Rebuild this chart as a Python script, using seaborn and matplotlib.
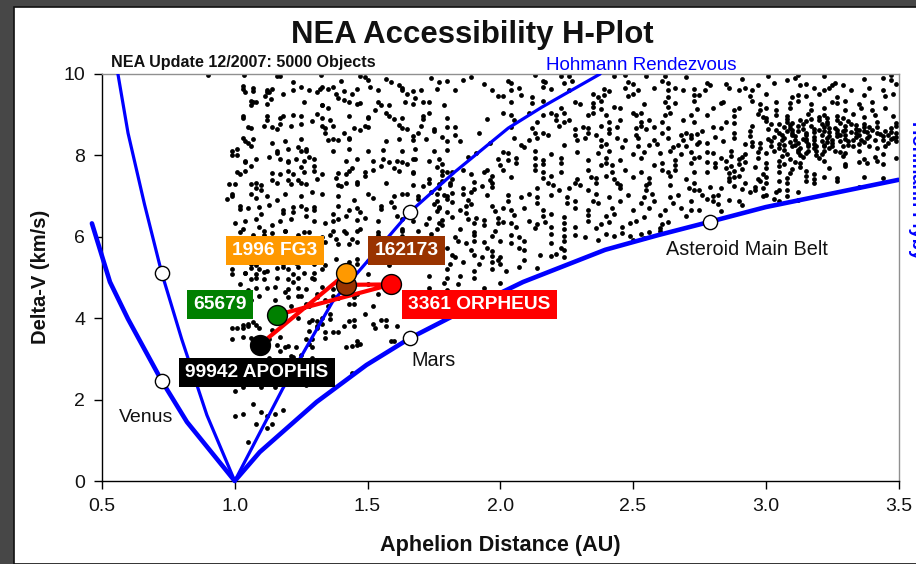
import matplotlib.pyplot as plt
import pandas as pd
import seaborn as sns
from matplotlib.patches import Rectangle

# curves: (aphelion AU, delta-v km/s)
venus_rendezvous = [(0.56, 10), (0.598, 8.55), (0.66, 6.8), (0.725, 5.11), (0.80, 3.49), (0.895, 1.62), (1.0, 0)]
venus_flyby = [(0.462, 6.33), (0.53, 4.89), (0.598, 3.98), (0.725, 2.46), (0.82, 1.45), (1.0, 0)]
outer_rendezvous = [(1.0, 0), (1.18, 2.26), (1.368, 4.4), (1.658, 6.6), (1.83, 7.6), (2.03, 8.67), (2.158, 9.19), (2.376, 10)]
outer_flyby = [(1.0, 0), (1.094, 0.71), (1.308, 1.94), (1.496, 2.85), (1.66, 3.51), (1.83, 4.08), (2.086, 4.89),
               (2.395, 5.68), (2.594, 6.04), (2.79, 6.37), (3.0, 6.73), (3.5, 7.4)]
planets = [(0.725, 5.11), (0.725, 2.46), (1.66, 6.6), (1.66, 3.51), (2.79, 6.37)]

target_names = ["99942 APOPHIS", "65679", "162173", "1996 FG3", "3361 ORPHEUS"]
target_x = [1.095, 1.16, 1.42, 1.42, 1.59]
target_y = [3.35, 4.08, 4.82, 5.10, 4.83]
target_colors = ["#000000", "#008000", "#993300", "#FF9900", "#FF0000"]
route_x = [1.095, 1.42, 1.42, 1.59, 1.16]
route_y = [3.35, 5.10, 4.82, 4.83, 4.08]

x_ticks = [0.5, 1.0, 1.5, 2.0, 2.5, 3.0, 3.5]
y_ticks = [0, 2, 4, 6, 8, 10]

# dots estimated by eye from the reference
neo_dots = [
 (0.90,9.97),(1.035,9.97),(1.16,9.96),(1.17,9.94),(1.22,9.8),(1.325,9.97),(1.40,9.82),(1.47,9.95),(1.49,9.93),(1.50,9.85),
 (1.03,9.7),(1.04,9.57),(1.07,9.58),(1.06,9.33),(1.07,9.3),(1.12,9.6),(1.13,9.55),(1.115,9.45),(1.135,9.38),(1.18,9.5),
 (1.25,9.68),(1.28,9.6),(1.31,9.57),(1.33,9.68),(1.35,9.62),(1.37,9.67),(1.38,9.52),(1.39,9.42),(1.41,9.36),(1.44,9.5),
 (1.47,9.28),(1.51,9.68),(1.57,9.88),(1.59,9.8),(1.62,9.72),(1.63,9.6),(1.65,9.52),(1.68,9.4),(1.70,9.6),(1.71,9.3),
 (1.74,9.9),(1.77,9.8),(1.80,9.82),(1.83,9.6),(1.86,9.85),(1.89,9.92),(1.94,9.75),(1.97,9.6),(1.99,9.45),
 (1.03,8.98),(1.05,8.7),(1.03,8.42),(1.05,8.3),(1.06,8.22),(1.12,8.88),(1.14,8.7),(1.17,8.77),(1.18,8.98),(1.22,9.0),
 (1.25,8.78),(1.29,8.85),(1.31,9.02),(1.33,9.25),(1.35,9.17),(1.36,8.88),(1.33,8.72),(1.34,8.55),(1.37,8.4),(1.39,8.38),
 (1.41,8.55),(1.43,8.42),(1.47,8.62),(1.49,8.72),(1.50,8.95),(1.53,9.12),(1.55,9.25),(1.57,9.05),(1.60,8.9),(1.62,8.75),
 (1.65,8.65),(1.67,8.48),(1.69,8.55),(1.71,8.9),(1.73,9.05),(1.75,8.6),(1.78,8.45),(1.80,8.7),(1.83,8.5),(1.85,8.35),
 (1.14,8.3),(1.16,8.05),(1.13,7.95),(1.17,7.9),(1.20,7.85),(1.24,8.2),(1.27,8.1),(1.28,7.95),(1.30,7.75),(1.25,7.72),
 (0.99,8.0),(1.01,8.0),(1.04,7.85),(1.06,7.75),(1.02,7.55),(1.0,7.3),(1.06,7.3),(1.08,7.2),(1.10,7.15),(1.14,7.4),
 (1.17,7.55),(1.20,7.4),(1.22,7.55),(1.24,7.4),(1.27,7.3),(1.29,7.1),(1.31,7.42),(1.33,7.55),(1.38,7.45),(1.40,7.25),
 (1.42,7.55),(1.44,7.7),(1.46,7.35),(1.49,7.5),(1.52,7.65),(1.55,7.75),(1.58,7.85),(1.60,7.7),(1.63,7.85),(1.65,7.8),
 (1.68,7.9),(1.76,7.72),(1.78,7.8),(1.86,7.65),(1.88,7.95),(1.91,8.05),(1.95,7.65),(1.99,7.9),(1.92,8.55),(1.96,8.3),(1.95,8.9),
 (0.97,6.92),(0.99,7.05),(1.02,6.75),(1.05,6.7),(1.08,6.95),(1.10,6.55),(1.13,6.78),(1.16,6.9),(1.18,6.58),(1.22,6.62),
 (1.25,6.75),(1.27,6.5),(1.30,6.65),(1.34,6.35),(1.37,6.55),(1.39,6.75),(1.42,6.5),(1.45,6.9),(1.47,6.62),(1.49,6.45),
 (1.52,6.95),(1.55,6.75),(1.59,6.85),(1.61,6.5),(1.0,6.35),(1.03,6.2),(1.07,6.05),(1.09,6.25),(1.11,6.05),(1.14,6.3),
 (1.19,6.15),(1.24,6.05),(1.28,6.12),(1.33,6.0),(1.36,6.05),(1.38,5.95),(1.41,6.15),(1.44,5.95),(1.47,6.2),(1.51,5.85),
 (1.54,6.05),(1.58,5.8),(0.99,5.2),(1.04,5.1),(1.08,5.3),(1.12,5.15),(1.18,5.25),(1.23,5.35),(1.26,5.1),(1.29,5.0),
 (1.34,5.3),(1.38,5.45),(1.46,5.45),(1.50,5.4),(1.54,5.5),(1.58,5.3),(1.02,4.85),(1.05,4.7),(1.09,4.55),(1.12,4.75),
 (1.06,4.45),(1.15,4.45),(1.19,4.65),(1.22,4.9),(1.25,4.55),(1.28,4.3),(1.31,4.6),(1.34,4.45),(1.36,4.1),(1.39,4.5),
 (1.43,4.35),(1.46,4.6),(1.50,4.85),(1.54,4.6),(1.24,4.0),(1.28,3.9),(1.31,3.75),(1.33,4.0),(1.37,3.65),(1.41,3.8),
 (1.45,3.95),(1.49,4.1),(1.53,3.75),(1.57,3.95),(1.61,3.8),(1.46,3.45),(0.99,3.76),(1.01,3.76),(1.03,3.76),(1.05,3.85),
 (1.07,3.9),(1.09,3.75),(1.03,3.55),(1.14,3.7),(1.17,3.55),(1.19,3.3),(1.17,3.2),(1.23,3.3),(1.27,3.5),(1.29,3.3),
 (1.42,3.3),(1.46,3.35),(1.22,3.05),(1.25,3.1),(1.59,3.45),(1.60,3.45),(1.01,2.4),(1.03,2.3),(1.10,2.3),(1.15,2.3),
 (1.27,2.35),(1.44,2.65),(1.0,2.2),(1.07,1.9),(1.18,1.75),(1.12,1.6),(1.10,1.7),(1.0,1.6),(1.03,1.65),(1.15,1.65),
 (1.08,1.4),(1.12,1.3),(1.05,0.95),(1.14,1.4),
 # second pass over 1.0-1.85 AU
 (1.03,9.62),(1.07,9.65),(1.12,9.57),(1.14,9.62),(1.22,9.6),(1.32,9.64),(1.41,9.58),(1.46,9.63),(1.54,9.6),(1.63,9.65),
 (1.67,9.58),(1.76,9.62),(1.06,9.25),(1.08,9.3),(1.12,9.27),(1.26,9.3),(1.33,9.24),(1.43,9.3),(1.46,9.26),(1.54,9.3),
 (1.58,9.25),(1.64,9.3),(1.67,9.26),(1.73,9.3),(1.79,9.25),(1.03,8.93),(1.12,8.97),(1.17,8.92),(1.25,8.97),(1.33,8.93),
 (1.43,8.98),(1.5,8.92),(1.58,8.96),(1.63,8.93),(1.71,8.97),(1.80,8.92),(1.06,8.68),(1.11,8.72),(1.16,8.66),(1.21,8.72),
 (1.34,8.68),(1.37,8.72),(1.45,8.67),(1.5,8.71),(1.63,8.68),(1.7,8.72),(1.75,8.66),(1.83,8.71),(1.04,8.36),(1.07,8.4),
 (1.19,8.35),(1.25,8.4),(1.35,8.37),(1.43,8.41),(1.57,8.35),(1.62,8.4),(1.67,8.37),(1.72,8.41),(1.80,8.36),(0.99,8.11),
 (1.01,8.15),(1.16,8.12),(1.20,8.16),(1.25,8.1),(1.27,8.15),(1.37,8.11),(1.43,8.15),(1.5,8.1),(1.56,8.14),(1.63,8.11),
 (1.68,8.15),(1.75,8.1),(1.80,8.14),(1.04,7.87),(1.08,7.91),(1.20,7.86),(1.23,7.91),(1.26,7.87),(1.30,7.92),(1.42,7.86),
 (1.46,7.9),(1.52,7.87),(1.56,7.91),(1.61,7.86),(1.67,7.9),(1.73,7.87),(1.77,7.91),(1.01,7.58),(1.04,7.62),(1.14,7.57),
 (1.20,7.62),(1.26,7.58),(1.30,7.62),(1.39,7.57),(1.43,7.61),(1.49,7.58),(1.62,7.62),(1.67,7.57),(1.78,7.61),(1.82,7.58),
 (0.98,7.29),(1.08,7.33),(1.10,7.28),(1.16,7.33),(1.21,7.29),(1.25,7.33),(1.39,7.28),(1.42,7.32),(1.46,7.29),(1.57,7.33),
 (1.67,7.28),(1.73,7.32),(1.77,7.29),(1.81,7.33),(0.99,7.01),(1.06,7.05),(1.12,7.0),(1.19,7.05),(1.25,7.01),(1.33,7.05),
 (1.39,7.0),(1.5,7.04),(1.6,7.01),(1.63,7.05),(1.69,7.0),(1.76,7.04),(1.8,7.01),(1.02,6.68),(1.09,6.72),(1.18,6.67),
 (1.22,6.72),(1.27,6.68),(1.3,6.72),(1.43,6.67),(1.46,6.71),(1.55,6.68),(1.6,6.72),(1.64,6.67),(1.77,6.71),(1.04,6.39),
 (1.08,6.43),(1.17,6.38),(1.21,6.43),(1.3,6.39),(1.39,6.43),(1.37,6.38),(1.46,6.42),(1.54,6.39),(1.63,6.43),(1.67,6.38),
 (1.02,6.11),(1.11,6.15),(1.14,6.1),(1.19,6.14),(1.26,6.11),(1.37,6.15),(1.42,6.1),(1.46,6.14),(1.54,6.11),(1.63,6.15),
 (1.43,5.82),(1.46,5.86),(1.39,5.83),(1.34,5.87),(1.06,5.33),(1.11,5.37),(1.18,5.34),(1.23,5.38),(1.3,5.33),(1.43,5.37),
 (1.46,5.34),(1.6,5.37),(0.99,5.08),(1.04,5.12),(1.08,5.09),(1.11,5.13),(1.22,5.08),(1.3,5.12),(1.5,5.09),(1.06,5.23),
 (1.09,5.2),(1.16,5.24),(1.2,5.21),(1.24,5.25),(1.33,5.21),(1.06,4.96),(1.08,5.0),(1.11,4.97),(1.16,5.0),(1.2,4.96),
 (1.24,5.0),(1.3,4.96),(1.08,4.73),(1.15,4.76),(1.2,4.71),(1.24,4.75),(1.27,4.72),(1.33,4.76),(1.37,4.71),(1.2,4.52),
 (1.24,4.55),(1.31,4.51),(1.37,4.55),(1.45,4.51),(1.21,4.31),(1.27,4.34),(1.35,4.3),(1.45,4.34),(1.52,4.3),(1.29,3.96),
 (1.31,3.93),(1.36,3.97),(1.43,3.93),(1.55,3.96),(1.03,3.84),(1.05,3.8),(1.08,3.84),(1.31,3.81),(1.33,3.85),(1.45,3.81),
 (1.52,3.85),(1.57,3.81),(1.34,3.66),(1.28,3.69),(1.39,3.65),(0.99,3.5),(1.06,3.52),(1.13,3.48),(1.34,3.52),(1.29,3.48),
 (1.16,3.35),(1.2,3.32),(1.28,3.36),(1.44,3.32),(1.47,3.36),(1.13,3.03),(1.21,3.07),(1.29,3.03),
 # 1.62-2.0 AU below the rendezvous curve
 (1.67,7.58),(1.78,7.52),(1.80,7.6),(1.89,7.55),(1.94,7.6),(1.97,7.5),(1.73,7.41),(1.78,7.36),(1.82,7.42),(1.90,7.35),
 (1.96,7.4),(1.97,7.33),(1.71,7.25),(1.77,7.2),(1.81,7.27),(1.86,7.2),(1.93,7.25),(1.90,7.18),(1.97,7.22),(1.65,7.05),
 (1.74,7.1),(1.79,7.03),(1.82,7.08),(1.86,7.05),(1.89,7.1),(1.95,7.02),(1.69,6.92),(1.76,6.88),(1.80,6.94),(1.82,6.86),
 (1.88,6.9),(1.75,6.8),(1.77,6.74),(1.87,6.76),(1.89,6.8),(1.97,6.75),(1.76,6.64),(1.80,6.6),(1.85,6.65),(1.87,6.58),
 (1.98,6.63),(1.73,6.47),(1.78,6.42),(1.82,6.48),(1.88,6.44),(1.91,6.47),(1.94,6.42),(1.99,6.46),(1.72,6.31),(1.77,6.35),
 (1.78,6.29),(1.90,6.34),(1.94,6.3),(1.99,6.35),(1.63,6.18),(1.69,6.14),(1.76,6.18),(1.90,6.13),(1.85,6.18),(1.98,6.15),
 (1.63,6.02),(1.74,6.06),(1.83,6.0),(1.90,6.05),(1.97,6.02),(1.84,5.9),(1.87,5.85),(1.90,5.9),(1.94,5.86),(1.80,5.72),
 (1.89,5.68),(1.95,5.72),(1.97,5.66),(1.82,5.55),(1.83,5.5),(1.90,5.56),(1.93,5.5),(1.97,5.54),(2.0,5.5),(1.68,5.37),
 (1.81,5.33),(1.86,5.38),(1.92,5.33),(1.97,5.37),(2.0,5.33),(1.80,5.2),(1.90,5.16),(1.97,5.2),(2.02,5.15),(1.73,5.03),
 (1.80,5.0),(1.85,5.04),(1.90,5.0),(1.79,4.87),(1.84,4.83),(2.0,4.86),(1.73,4.75),(1.80,4.7),(1.94,4.75),(1.66,4.65),
 # 2.0-2.38 AU under 6.1 km/s
 (2.04,6.05),(2.07,6.0),(2.19,6.06),(2.24,6.02),(2.28,6.05),(2.32,6.0),(2.0,5.9),(2.04,5.85),(2.09,5.9),(2.19,5.85),
 (2.24,5.9),(2.07,5.72),(2.09,5.67),(2.23,5.72),(2.24,5.67),(2.15,5.56),(2.19,5.52),(2.21,5.57),(2.24,5.5),(1.99,5.44),
 (2.09,5.42),(2.07,5.27),(2.14,5.24),
 # 2.0-2.75 AU
 (2.23,9.96),(2.26,9.94),(2.13,9.97),(2.43,9.95),(2.47,9.97),(2.55,9.94),(2.62,9.96),(2.70,9.93),(2.03,9.82),(2.04,9.78),
 (2.17,9.8),(2.16,9.84),(2.24,9.78),(2.27,9.82),(2.48,9.8),(2.50,9.76),(2.61,9.83),(2.63,9.77),(2.04,9.6),(2.07,9.65),
 (2.19,9.62),(2.16,9.67),(2.26,9.6),(2.39,9.64),(2.41,9.59),(2.47,9.66),(2.52,9.6),(2.58,9.65),(2.63,9.61),(2.66,9.66),
 (2.69,9.6),(2.73,9.64),(2.01,9.45),(2.08,9.49),(2.12,9.44),(2.35,9.5),(2.37,9.44),(2.39,9.48),(2.48,9.45),(2.5,9.5),
 (2.63,9.44),(2.73,9.49),(2.04,9.32),(2.12,9.28),(2.16,9.33),(2.30,9.27),(2.28,9.32),(2.35,9.28),(2.38,9.33),(2.54,9.27),
 (2.62,9.32),(2.66,9.28),(2.73,9.33),(2.23,9.16),(2.35,9.2),(2.38,9.15),(2.43,9.2),(2.45,9.16),(2.63,9.2),(2.74,9.15),
 (2.01,9.04),(2.04,9.0),(2.11,9.05),(2.16,8.99),(2.19,9.04),(2.21,9.0),(2.24,9.05),(2.33,8.99),(2.35,9.03),(2.40,9.0),
 (2.50,9.05),(2.51,8.99),(2.53,9.04),(2.62,9.0),(2.64,9.05),(2.72,8.99),(2.05,8.87),(2.14,8.83),(2.21,8.88),(2.24,8.83),
 (2.26,8.87),(2.41,8.82),(2.45,8.87),(2.53,8.83),(2.56,8.88),(2.61,8.82),(2.69,8.87),(2.73,8.83),(2.04,8.71),(2.12,8.67),
 (2.22,8.72),(2.28,8.66),(2.31,8.71),(2.33,8.67),(2.38,8.72),(2.41,8.66),(2.44,8.7),(2.51,8.67),(2.53,8.72),(2.55,8.66),
 (2.58,8.71),(2.63,8.67),(2.13,8.54),(2.18,8.5),(2.16,8.55),(2.28,8.49),(2.33,8.54),(2.36,8.5),(2.41,8.55),(2.51,8.49),
 (2.61,8.54),(2.68,8.5),(2.70,8.55),(2.72,8.49),(2.74,8.53),(2.05,8.42),(2.11,8.38),(2.14,8.43),(2.29,8.37),(2.32,8.42),
 (2.38,8.38),(2.44,8.43),(2.47,8.37),(2.52,8.42),(2.58,8.38),(2.63,8.43),(2.69,8.37),(2.72,8.42),(2.08,8.26),(2.09,8.21),
 (2.24,8.26),(2.38,8.22),(2.40,8.27),(2.46,8.21),(2.56,8.26),(2.52,8.22),(2.59,8.27),(2.65,8.21),(2.67,8.26),(2.70,8.22),
 (2.74,8.27),(2.01,8.09),(2.03,8.05),(2.13,8.1),(2.19,8.04),(2.29,8.09),(2.37,8.05),(2.41,8.1),(2.50,8.04),(2.54,8.09),
 (2.60,8.05),(2.64,8.1),(2.68,8.04),(2.72,8.09),(2.06,7.93),(2.03,7.88),(2.13,7.94),(2.16,7.89),(2.23,7.93),(2.33,7.88),
 (2.40,7.94),(2.45,7.89),(2.53,7.93),(2.66,7.88),(2.73,7.94),(2.0,7.77),(2.06,7.81),(2.13,7.76),(2.16,7.8),(2.38,7.76),
 (2.40,7.81),(2.42,7.77),(2.23,7.81),(2.58,7.76),(2.61,7.81),(2.66,7.77),(2.72,7.81),(2.01,7.64),(2.23,7.6),(2.13,7.65),
 (2.16,7.59),(2.33,7.64),(2.42,7.6),(2.47,7.65),(2.53,7.59),(2.61,7.64),(2.63,7.6),(2.66,7.65),(2.73,7.59),(2.04,7.48),
 (2.16,7.44),(2.19,7.49),(2.29,7.43),(2.34,7.48),(2.36,7.44),(2.40,7.49),(2.43,7.43),(2.50,7.48),(2.56,7.44),(2.64,7.49),
 (2.70,7.43),(2.18,7.32),(2.20,7.28),(2.28,7.33),(2.30,7.27),(2.36,7.32),(2.45,7.28),(2.44,7.33),(2.55,7.27),(2.56,7.32),
 (2.64,7.28),(2.73,7.33),(2.14,7.19),(2.22,7.15),(2.26,7.2),(2.33,7.14),(2.45,7.19),(2.55,7.15),(2.71,7.2),(2.73,7.14),
 (2.03,7.03),(2.08,6.99),(2.11,7.04),(2.14,6.98),(2.19,7.03),(2.25,6.99),(2.36,7.04),(2.41,6.98),(2.48,7.03),(2.54,6.99),
 (2.57,7.04),(2.64,6.98),(2.67,7.03),(2.03,6.87),(2.14,6.83),(2.28,6.88),(2.25,6.82),(2.35,6.87),(2.37,6.83),(2.45,6.88),
 (2.53,6.82),(2.58,6.87),(2.65,6.83),(2.72,6.88),(2.01,6.7),(2.04,6.66),(2.09,6.71),(2.16,6.65),(2.28,6.7),(2.33,6.66),
 (2.42,6.71),(2.50,6.65),(2.56,6.7),(2.62,6.66),(2.68,6.71),(2.72,6.65),(2.05,6.54),(2.16,6.5),(2.19,6.55),(2.24,6.49),
 (2.33,6.54),(2.40,6.5),(2.43,6.55),(2.54,6.49),(2.60,6.54),(2.70,6.5),(2.01,6.37),(2.04,6.33),(2.11,6.38),(2.14,6.32),
 (2.17,6.37),(2.24,6.33),(2.33,6.38),(2.38,6.32),(2.41,6.37),(2.49,6.33),(2.51,6.38),(2.61,6.32),(2.63,6.37),(2.06,6.25),
 (2.13,6.21),(2.19,6.25),(2.24,6.2),(2.28,6.25),(2.36,6.21),(2.46,6.25),(2.60,6.21),(2.40,6.08),(2.43,6.03),(2.46,6.1),
 (2.49,6.02),(2.53,6.07),(2.56,6.12),(2.6,6.15),(2.5,5.92),(2.54,5.98),(2.37,5.92),
 # 2.75-3.5 AU, main belt clump included
 (3.01,9.96),(3.12,9.98),(3.22,9.95),(3.47,9.97),(2.91,9.88),(3.08,9.86),(3.11,9.9),(3.37,9.87),(3.44,9.9),(3.47,9.85),
 (2.78,9.77),(2.79,9.73),(2.85,9.76),(2.97,9.72),(3.03,9.77),(3.13,9.73),(3.15,9.76),(3.25,9.72),(3.26,9.77),(3.29,9.73),
 (3.49,9.76),(2.77,9.6),(2.86,9.65),(2.90,9.61),(2.92,9.66),(2.95,9.6),(3.18,9.65),(3.22,9.61),(3.24,9.66),(3.32,9.6),
 (3.39,9.65),(3.44,9.61),(2.75,9.49),(2.94,9.45),(3.0,9.5),(3.10,9.44),(3.12,9.49),(3.15,9.45),(3.2,9.5),(3.27,9.44),
 (3.37,9.49),(3.45,9.45),(3.48,9.5),(2.84,9.32),(2.83,9.28),(2.95,9.33),(2.98,9.27),(3.04,9.32),(3.09,9.28),(3.12,9.33),
 (3.17,9.27),(3.25,9.32),(3.27,9.28),(3.30,9.33),(3.35,9.27),(3.40,9.32),(2.80,9.16),(2.88,9.12),(2.90,9.17),(2.98,9.11),
 (3.0,9.16),(3.04,9.12),(3.09,9.17),(3.17,9.11),(3.22,9.16),(3.30,9.12),(3.36,9.17),(3.40,9.11),(3.45,9.16),(2.78,9.0),
 (2.88,8.96),(2.97,9.01),(2.99,8.95),(3.04,9.0),(3.08,8.96),(3.16,9.01),(3.20,8.95),(3.22,9.0),(3.27,8.96),(3.33,9.01),
 (3.37,8.95),(3.41,9.0),(3.48,8.96),(2.85,8.83),(2.88,8.79),(3.0,8.84),(3.05,8.78),(3.08,8.83),(3.10,8.79),(3.15,8.84),
 (3.21,8.78),(3.23,8.83),(3.28,8.79),(3.31,8.84),(3.37,8.78),(3.42,8.83),(3.49,8.79),(2.80,8.71),(2.83,8.67),(2.95,8.72),
 (3.01,8.66),(3.07,8.71),(3.09,8.67),(3.12,8.72),(3.18,8.66),(3.22,8.71),(3.24,8.67),(3.30,8.72),(3.34,8.66),(3.39,8.71),
 (3.47,8.67),(3.49,8.72),(2.76,8.59),(2.88,8.55),(2.94,8.6),(3.05,8.54),(3.08,8.59),(3.10,8.55),(3.12,8.6),(3.15,8.54),
 (3.22,8.59),(3.27,8.55),(3.29,8.6),(3.34,8.54),(3.37,8.59),(3.42,8.55),(3.45,8.6),(3.49,8.54),(2.81,8.46),(2.88,8.42),
 (2.94,8.47),(3.01,8.41),(3.03,8.46),(3.07,8.42),(3.11,8.47),(3.14,8.41),(3.18,8.46),(3.23,8.42),(3.27,8.47),(3.30,8.41),
 (3.34,8.46),(3.38,8.42),(3.44,8.47),(3.47,8.41),(3.49,8.46),(2.75,8.34),(2.78,8.3),(2.84,8.35),(2.92,8.29),(2.95,8.34),
 (2.98,8.3),(3.02,8.35),(3.05,8.29),(3.09,8.34),(3.12,8.3),(3.15,8.35),(3.18,8.29),(3.23,8.34),(3.25,8.3),(3.31,8.35),
 (3.35,8.29),(3.37,8.34),(3.46,8.3),(3.49,8.35),(2.95,8.22),(2.98,8.18),(3.02,8.23),(3.05,8.17),(3.10,8.22),(3.13,8.18),
 (3.16,8.23),(3.18,8.17),(3.22,8.22),(3.24,8.18),(3.39,8.23),(3.42,8.17),(3.45,8.22),(2.78,8.09),(2.80,8.05),(2.87,8.1),
 (2.92,8.04),(2.97,8.09),(3.0,8.05),(3.03,8.1),(3.08,8.04),(3.12,8.09),(3.15,8.05),(3.19,8.1),(3.21,8.04),(3.28,8.09),
 (3.30,8.05),(3.35,8.1),(3.44,8.04),(2.75,7.97),(2.83,7.93),(2.87,7.98),(2.90,7.92),(2.91,7.97),(2.97,7.93),(3.06,7.98),
 (3.09,7.92),(3.14,7.97),(3.20,7.93),(3.29,7.98),(3.37,7.92),(3.41,7.97),(3.49,7.93),(2.78,7.85),(2.81,7.81),(2.85,7.86),
 (2.90,7.8),(2.92,7.85),(3.0,7.81),(3.05,7.86),(3.07,7.8),(3.11,7.85),(3.13,7.81),(3.22,7.86),(3.30,7.8),(3.35,7.85),
 (3.38,7.81),(3.42,7.86),(3.44,7.8),(2.81,7.72),(2.85,7.68),(2.87,7.73),(2.91,7.67),(2.96,7.72),(3.0,7.68),(3.05,7.73),
 (3.10,7.67),(3.13,7.72),(3.24,7.68),(3.30,7.73),(2.78,7.6),(2.86,7.56),(2.88,7.61),(2.99,7.55),(3.05,7.6),(3.09,7.56),
 (3.15,7.61),(3.18,7.55),(2.88,7.48),(2.86,7.44),(2.90,7.49),(2.97,7.43),(3.0,7.48),(3.08,7.44),(3.15,7.49),(3.18,7.43),
 (3.22,7.48),(3.27,7.44),(3.37,7.48),(3.44,7.44),(2.86,7.36),(2.92,7.32),(2.98,7.37),(3.0,7.31),(3.05,7.36),(3.08,7.32),
 (3.15,7.37),(3.18,7.31),(3.27,7.36),(2.79,7.23),(2.83,7.19),(2.88,7.24),(2.91,7.18),(2.96,7.23),(2.99,7.19),(3.35,7.22),
 (2.75,7.14),(2.94,7.1),(2.96,7.15),(3.04,7.11),(3.05,7.15),(3.12,7.1),(3.08,7.14),(2.76,7.02),(2.80,7.0),(2.82,7.03),
 (2.99,7.0),(3.0,7.03),(3.08,7.0),(2.78,6.92),(2.80,6.88),(2.86,6.91),(2.90,6.88),(3.03,6.92),(3.05,6.89),(3.12,6.91),
 (2.82,6.8),(2.91,6.78),(2.75,6.66),(2.83,6.64),
 # thickest part of the clump
 (3.0,8.92),(3.02,8.78),(3.04,8.62),(3.06,8.5),(3.06,8.38),(3.07,8.26),(3.07,8.14),(3.08,8.9),(3.09,8.74),(3.1,8.62),
 (3.1,8.5),(3.11,8.38),(3.11,8.26),(3.12,8.14),(3.13,8.02),(3.13,8.88),(3.14,8.76),(3.14,8.64),(3.15,8.5),(3.15,8.4),
 (3.16,8.28),(3.16,8.12),(3.17,8.9),(3.17,8.72),(3.18,8.58),(3.18,8.38),(3.19,8.24),(3.19,8.02),(3.2,8.86),(3.2,8.62),
 (3.21,8.5),(3.21,8.36),(3.22,8.26),(3.22,8.1),(3.23,8.92),(3.23,8.76),(3.24,8.58),(3.24,8.48),(3.25,8.38),(3.25,8.24),
 (3.26,8.12),(3.26,8.68),(3.27,8.86),(3.27,8.62),(3.28,8.5),(3.28,8.36),(3.29,8.24),(3.29,8.92),(3.3,8.62),(3.3,8.5),
 (3.31,8.26),(3.32,8.76),(3.32,8.58),(3.33,8.38),(3.33,8.22),(3.34,8.74),(3.35,8.62),(3.35,8.5),(3.36,8.38),(3.37,8.7),
 (3.38,8.58),(3.39,8.48),(3.4,8.62),(3.41,8.38),(3.42,8.7),(3.43,8.52),(3.44,8.38),(3.46,8.5),(3.47,8.58),(3.48,8.42),
]

sns.set_theme(style="white")
plt.rcParams["font.family"] = ["Liberation Sans", "DejaVu Sans"]

fig = plt.figure(figsize=(9.16, 5.64), dpi=100, facecolor="#474747")
fig.patches.append(Rectangle((14 / 916, 0), 1, 557 / 564, transform=fig.transFigure,
                             facecolor="white", edgecolor="#111111", linewidth=1.2, zorder=-1))
ax = fig.add_axes([102 / 916, 1 - 481 / 564, 796.5 / 916, 407 / 564])
ax.set_facecolor("none")

dots = pd.DataFrame(neo_dots, columns=["aphelion", "delta_v"])
sns.scatterplot(data=dots, x="aphelion", y="delta_v", ax=ax, color="black", s=12, marker="o", linewidth=0, zorder=2)

for curve, width, clip in [(venus_rendezvous, 2.3, True), (outer_rendezvous, 2.3, True),
                           (venus_flyby, 3.3, False), (outer_flyby, 3.3, True)]:
    frame = pd.DataFrame(curve, columns=["aphelion", "delta_v"])
    sns.lineplot(data=frame, x="aphelion", y="delta_v", ax=ax, color="#0000FF", linewidth=width,
                 sort=False, estimator=None, clip_on=clip, zorder=3)

ax.plot(route_x, route_y, color="#FF0000", linewidth=3, zorder=4)

planet_frame = pd.DataFrame(planets, columns=["aphelion", "delta_v"])
sns.scatterplot(data=planet_frame, x="aphelion", y="delta_v", ax=ax, color="white", edgecolor="black",
                s=105, linewidth=1, zorder=5, clip_on=False)

for name, tx, ty, col in zip(target_names, target_x, target_y, target_colors):
    ax.scatter(tx, ty, s=205, color=col, edgecolor="black", linewidth=1, zorder=6)

label_style = dict(color="white", fontweight="bold", fontsize=13.8, ha="center", va="center", zorder=7)
ax.text(1.152, 5.66, "1996 FG3", bbox=dict(fc="#FF9900", ec="none", boxstyle="square,pad=0.32"), **label_style)
ax.text(1.647, 5.66, "162173", bbox=dict(fc="#993300", ec="none", boxstyle="square,pad=0.32"), **label_style)
ax.text(0.944, 4.34, "65679", bbox=dict(fc="#008000", ec="none", boxstyle="square,pad=0.32"), **label_style)
ax.text(1.921, 4.34, "3361 ORPHEUS", bbox=dict(fc="#FF0000", ec="none", boxstyle="square,pad=0.32"), **label_style)
ax.text(1.083, 2.67, "99942 APOPHIS", bbox=dict(fc="#000000", ec="none", boxstyle="square,pad=0.32"), **label_style)

ax.text(0.665, 1.57, "Venus", fontsize=14, color="#111111", ha="center", va="center")
ax.text(1.748, 2.95, "Mars", fontsize=14.3, color="#111111", ha="center", va="center")
ax.text(2.93, 5.7, "Asteroid Main Belt", fontsize=14.3, color="#111111", ha="center", va="center")

ax.set_xlim(0.5, 3.5)
ax.set_ylim(0, 10)
ax.set_xticks(x_ticks)
ax.set_xticklabels([f"{t:.1f}" for t in x_ticks])
ax.set_yticks(y_ticks)
ax.tick_params(axis="both", which="major", length=6, width=1, color="black", labelsize=14,
               labelcolor="#111111", bottom=True, left=True, pad=6)
ax.spines["left"].set_color("black")
ax.spines["bottom"].set_color("black")
ax.spines["top"].set_color("#909090")
ax.spines["right"].set_color("#909090")
for side in ax.spines:
    ax.spines[side].set_linewidth(1)

ax.set_xlabel("")
ax.set_ylabel("")
fig.text(500 / 916, 1 - 546 / 564, "Aphelion Distance (AU)", fontsize=15.6, fontweight="bold", ha="center", va="center", color="#111111")
fig.text(41 / 916, 1 - 277 / 564, "Delta-V (km/s)", fontsize=14.5, fontweight="bold", rotation=90, ha="center", va="center", color="#111111")
fig.text(472 / 916, 1 - 35 / 564, "NEA Accessibility H-Plot", fontsize=22.4, fontweight="bold", ha="center", va="center", color="#111111")
fig.text(111 / 916, 1 - 62 / 564, "NEA Update 12/2007: 5000 Objects", fontsize=11.6, fontweight="bold", ha="left", va="center", color="#111111")
fig.text(641 / 916, 1 - 65 / 564, "Hohmann Rendezvous", fontsize=13.5, color="#0000FF", ha="center", va="center")
fig.text(916 / 916, 1 - 190 / 564, "Hohmann Flyby", fontsize=13.3, fontweight="bold", color="#0000FF", rotation=270, ha="center", va="center")

fig.savefig("out.png", dpi=100, facecolor=fig.get_facecolor())
